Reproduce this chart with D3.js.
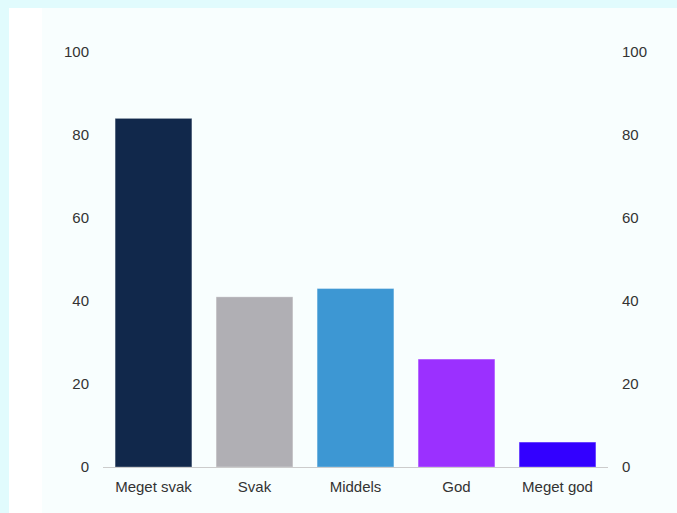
<!DOCTYPE html>
<html>
<head>
<meta charset="utf-8">
<script src="https://cdn.jsdelivr.net/npm/d3@7"></script>
<style>
  body { margin: 0; background: #e1fbfd; }
  svg { display: block; }
  .tick text { font-family: "Liberation Sans", Arial, sans-serif; font-size: 15px; fill: #333; }
</style>
</head>
<body>
<div class="chartCont"></div>
<script>
var w = 677;
var h = 513;

// data
const categories = ["Meget svak", "Svak", "Middels", "God", "Meget god"];
const values = [84, 41, 43, 26, 6];
const colors = ["#11284b", "#b0afb4", "#3d97d3", "#9b30ff", "#3300ff"];
const yTicks = [0, 20, 40, 60, 80, 100];

var svg = d3.select(".chartCont").append("svg")
    .attr("width", w)
    .attr("height", h);

// panel
svg.append("rect")
    .attr("x", 9).attr("y", 8)
    .attr("width", w - 9).attr("height", h - 8)
    .attr("fill", "#ffffff");
svg.append("rect")
    .attr("x", 42).attr("y", 8)
    .attr("width", w - 42).attr("height", h - 8)
    .attr("fill", "#f8fefe");

const x = d3.scaleBand()
    .domain(categories)
    .range([103, 608])
    .paddingInner(0.24)
    .paddingOuter(0.12);

const y = d3.scaleLinear()
    .domain([0, 100])
    .range([467, 52]);

const colorScale = d3.scaleOrdinal()
    .domain(categories)
    .range(colors);

// left axis
svg.append("g")
    .attr("transform", "translate(103,0)")
    .call(d3.axisLeft(y).tickValues(yTicks).tickSize(0).tickPadding(14))
    .call(g => g.select(".domain").remove());

// right axis
svg.append("g")
    .attr("transform", "translate(608,0)")
    .call(d3.axisRight(y).tickValues(yTicks).tickSize(0).tickPadding(14))
    .call(g => g.select(".domain").remove());

// bars
svg.selectAll(".bar")
    .data(values)
    .enter()
    .append("rect")
    .attr("class", "bar")
    .attr("x", (d, i) => x(categories[i]))
    .attr("y", d => y(d))
    .attr("width", x.bandwidth())
    .attr("height", d => y(0) - y(d))
    .attr("fill", (d, i) => colorScale(categories[i]))
    .attr("stroke", "rgba(255,255,255,0.3)")
    .attr("stroke-width", 1);

// bottom axis
svg.append("g")
    .attr("transform", "translate(0,467)")
    .call(d3.axisBottom(x).tickSize(0).tickPadding(14))
    .call(g => g.select(".domain").attr("stroke", "#cccccc").attr("d", "M103,0.5H608"));
</script>
</body>
</html>
